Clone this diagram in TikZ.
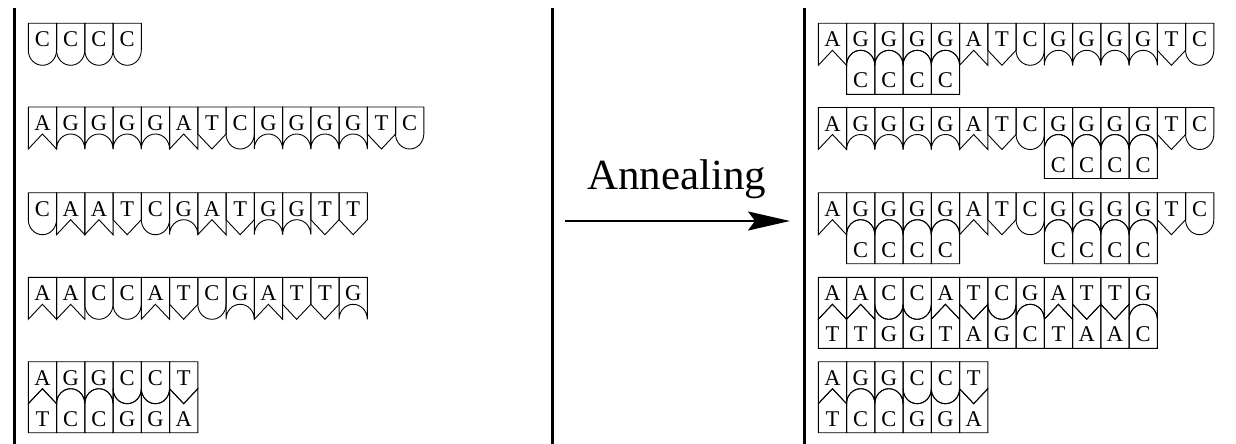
\documentclass[tikz,border=0pt]{standalone}
\usepackage{fontspec}
\setmainfont{Liberation Serif}
\usetikzlibrary{arrows.meta}

% tile width and half width (pt)
\def\tw{28.25}
\def\hw{14.125}

\tikzset{
  tile/.style={draw=black, line width=0.9pt, line join=miter},
  letter/.style={anchor=base, inner sep=0pt, font=\fontsize{22.5}{22.5}\selectfont},
  divider/.style={draw=black, line width=3pt},
  annealarrow/.style={draw=black, line width=2.5pt, -{Stealth[length=42pt,width=19pt,inset=7pt]}},
  caption/.style={anchor=base, inner sep=0pt, font=\fontsize{43}{43}\selectfont}
}

% upper strand tiles: #1 = left x, #2 = top y
\newcommand\tileTopA[2]{\draw[tile] (#1,#2-42) -- (#1,#2) -- (#1+\tw,#2) -- (#1+\tw,#2-42) -- (#1+\hw,#2-27) -- cycle;}
\newcommand\tileTopT[2]{\draw[tile] (#1,#2-27) -- (#1,#2) -- (#1+\tw,#2) -- (#1+\tw,#2-27) -- (#1+\hw,#2-42) -- cycle;}
\newcommand\tileTopG[2]{\draw[tile] (#1,#2-42) -- (#1,#2) -- (#1+\tw,#2) -- (#1+\tw,#2-42) arc[start angle=0,end angle=180,x radius=14.125pt,y radius=15pt] -- cycle;}
\newcommand\tileTopC[2]{\draw[tile] (#1,#2-27) -- (#1,#2) -- (#1+\tw,#2) -- (#1+\tw,#2-27) arc[start angle=0,end angle=-180,x radius=14.125pt,y radius=15pt] -- cycle;}

% lower (complementary) strand tiles, hanging under an upper strand whose top is #2
\newcommand\tileBotT[2]{\draw[tile] (#1,#2-71) -- (#1,#2-42) -- (#1+\hw,#2-27) -- (#1+\tw,#2-42) -- (#1+\tw,#2-71) -- cycle;}
\newcommand\tileBotA[2]{\draw[tile] (#1,#2-71) -- (#1,#2-27) -- (#1+\hw,#2-42) -- (#1+\tw,#2-27) -- (#1+\tw,#2-71) -- cycle;}
\newcommand\tileBotC[2]{\draw[tile] (#1,#2-71) -- (#1,#2-42) arc[start angle=180,end angle=0,x radius=14.125pt,y radius=15pt] -- (#1+\tw,#2-71) -- cycle;}
\newcommand\tileBotG[2]{\draw[tile] (#1,#2-71) -- (#1,#2-27) arc[start angle=180,end angle=360,x radius=14.125pt,y radius=15pt] -- (#1+\tw,#2-71) -- cycle;}

% #1 tag, #2 left x, #3 top y, #4 letters
\newcommand\topstrand[4]{%
  \foreach \L [count=\i from 0] in {#4} {
    \pgfmathsetmacro\xx{#2+\i*\tw}
    \csname tileTop\L\endcsname{\xx}{#3}
    \node[letter] (#1-\i) at (\xx+\hw,#3-23.5) {\L};
  }}
% #1 tag, #2 left x, #3 top y of upper strand, #4 first column, #5 letters
\newcommand\botstrand[5]{%
  \foreach \L [count=\i from #4] in {#5} {
    \pgfmathsetmacro\xx{#2+\i*\tw}
    \csname tileBot\L\endcsname{\xx}{#3}
    \node[letter] (#1-\i) at (\xx+\hw,#3-64.5) {\L};
  }}

\begin{document}
\begin{tikzpicture}[x=1pt,y=1pt]
\useasboundingbox (0,0) rectangle (1236,-444);

% panel dividers
\draw[divider] (14,-8) -- (14,-444);
\draw[divider] (552,-8) -- (552,-444);
\draw[divider] (804,-8) -- (804,-444);

% single strands before annealing
\topstrand{la}{28.3}{-23.3}{C,C,C,C}
\topstrand{lb}{28.3}{-107}{A,G,G,G,G,A,T,C,G,G,G,G,T,C}
\topstrand{lc}{28.3}{-192.7}{C,A,A,T,C,G,A,T,G,G,T,T}
\topstrand{ld}{28.3}{-277.3}{A,A,C,C,A,T,C,G,A,T,T,G}
\topstrand{le}{28.3}{-361.7}{A,G,G,C,C,T}
\botstrand{lf}{28.3}{-361.7}{0}{T,C,C,G,G,A}

% annealing step
\node[caption] (lab) at (676.7,-189) {Annealing};
\coordinate (arrS) at (565,-221);
\coordinate (arrE) at (790,-221);
\draw[annealarrow] (arrS) -- (arrE);

% products after annealing
\topstrand{ra}{818.3}{-23.3}{A,G,G,G,G,A,T,C,G,G,G,G,T,C}
\botstrand{rab}{818.3}{-23.3}{1}{C,C,C,C}
\topstrand{rb}{818.3}{-107.5}{A,G,G,G,G,A,T,C,G,G,G,G,T,C}
\botstrand{rbb}{818.3}{-107.5}{8}{C,C,C,C}
\topstrand{rc}{818.3}{-192.7}{A,G,G,G,G,A,T,C,G,G,G,G,T,C}
\botstrand{rcb}{818.3}{-192.7}{1}{C,C,C,C}
\botstrand{rcc}{818.3}{-192.7}{8}{C,C,C,C}
\topstrand{rd}{818.3}{-277.3}{A,A,C,C,A,T,C,G,A,T,T,G}
\botstrand{rdb}{818.3}{-277.3}{0}{T,T,G,G,T,A,G,C,T,A,A,C}
\topstrand{re}{818.3}{-361.7}{A,G,G,C,C,T}
\botstrand{reb}{818.3}{-361.7}{0}{T,C,C,G,G,A}
\end{tikzpicture}
\end{document}
